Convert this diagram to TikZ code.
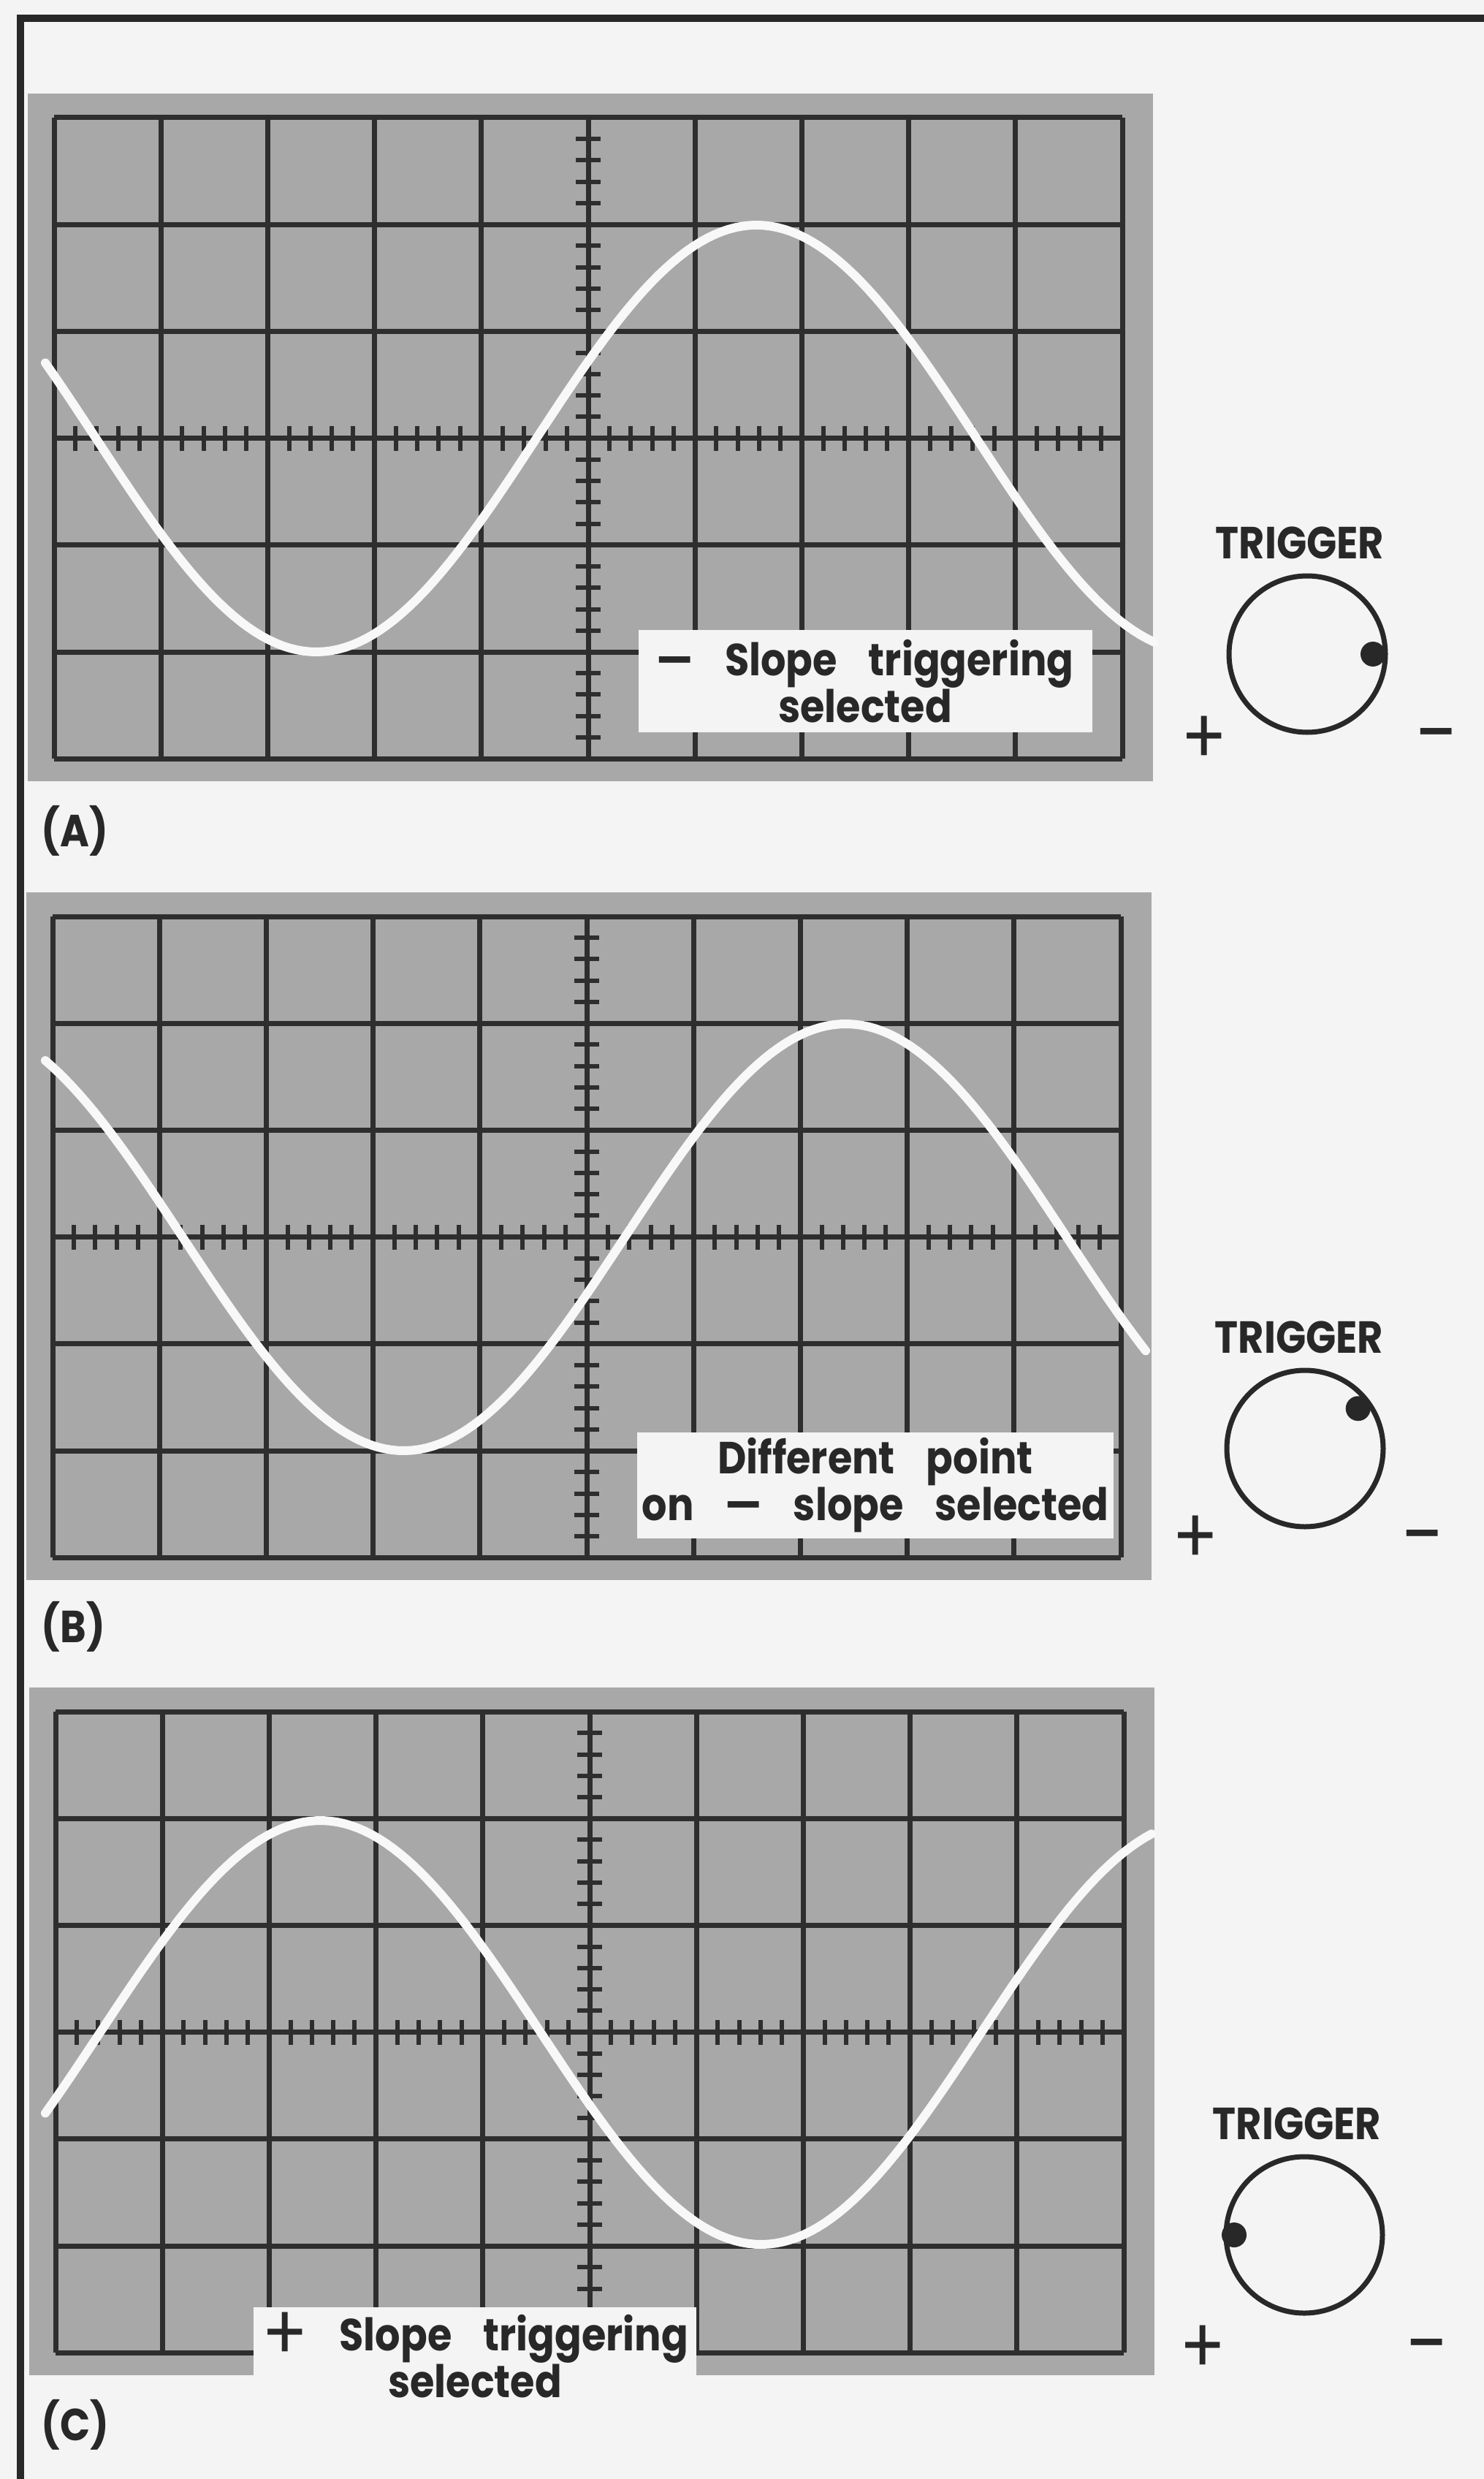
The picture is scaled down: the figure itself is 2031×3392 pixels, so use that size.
\documentclass[tikz,border=0pt]{standalone}
\usepackage{fontspec}
\setmainfont{Poppins}[FakeStretch=0.88]
\usepackage{tikz}
\usetikzlibrary{positioning,calc}

\definecolor{paper}{RGB}{244,244,244}
\definecolor{screen}{RGB}{168,168,168}
\definecolor{rule}{RGB}{46,46,46}
\definecolor{ink}{RGB}{40,40,40}
\definecolor{trace}{RGB}{248,248,248}

\begin{document}
\begin{tikzpicture}[x=0.1mm, y=-0.1mm, font=\fontsize{17.5}{18.2}\selectfont\bfseries, text=ink,
  gridline/.style={rule, line width=0.7mm},
  tick/.style={rule, line width=0.6mm},
  wave/.style={trace, line width=1.2mm, line cap=round},
  caption/.style={fill=paper, inner sep=0pt, align=center,
    execute at begin node={\spaceskip=0.7em\relax}},
  knob/.style={circle, draw=ink, line width=0.7mm, minimum size=21.4mm, inner sep=0pt},
  sign/.style={inner sep=0pt, font=\fontsize{30}{30}\selectfont\mdseries}]
% page and frame
\fill[paper] (0,0) rectangle (2031,3392);
\useasboundingbox (0,0) rectangle (2031,3392);
\draw[ink, line width=1mm] (28,3392) -- (28,25) -- (2031,25);
% three screens, grid origin at top left corner
\foreach \gx/\gy in {74/161, 72/1254, 76/2342}{
  \fill[screen] ({\gx-36},{\gy-33}) rectangle ({\gx+1504},{\gy+908});
  \foreach \i in {0,...,10} \draw[gridline] ({\gx+146.2*\i},\gy) -- ++(0,877);
  \foreach \j in {0,...,6} \draw[gridline] (\gx,{\gy+146.2*\j}) -- ++(1462,0);
  % minor ticks on the centre lines
  \foreach \k in {1,...,49} \draw[tick] ({\gx+29.24*\k},{\gy+421.6}) -- ++(0,34);
  \foreach \k in {1,...,29} \draw[tick] ({\gx+714},{\gy+29.24*\k}) -- ++(34,0);
}
% traces
\draw[wave] plot[domain=62:1579, samples=160] (\x,{600-292*sin((\x-734)/1205*360)});
\draw[wave] plot[domain=62:1568, samples=160] (\x,{1693-292*sin((\x-855)/1210*360)});
\draw[wave] plot[domain=62:1576, samples=160] (\x,{2781+290*sin((\x-740)/1206*360)});
% notes on the screens
\node[caption, minimum width=62.1mm, minimum height=14mm] (noteA) at (1184,932) {— Slope triggering\\selected};
\node[caption, minimum width=65.2mm, minimum height=14.5mm] (noteB) at (1198,2032) {Different point\\on — slope selected};
\node[caption, minimum width=60.6mm, minimum height=13.1mm] (noteC) at (650,3222) {\raisebox{-1.3mm}{\fontsize{30}{18.2}\selectfont\mdseries+} Slope triggering\\selected};
% panel letters
\node[anchor=west, inner sep=0pt] (capA) at (56,1137) {(A)};
\node[anchor=west, inner sep=0pt] (capB) at (56,2226) {(B)};
\node[anchor=west, inner sep=0pt] (capC) at (56,3318) {(C)};
% trigger knobs
\node[knob] (knobA) at (1789,895) {};
\node[knob] (knobB) at (1786,1982) {};
\node[knob] (knobC) at (1785,3058) {};
\fill[ink] (knobA.center) ++(0:9mm) circle[radius=1.7mm];
\fill[ink] (knobB.center) ++(37:9.1mm) circle[radius=1.7mm];
\fill[ink] (knobC.center) ++(180:9.6mm) circle[radius=1.7mm];
\node[above=1.9mm of knobA, xshift=-1mm, inner sep=0pt] (trigA) {TRIGGER};
\node[above=1.9mm of knobB, xshift=-0.8mm, inner sep=0pt] (trigB) {TRIGGER};
\node[above=1.9mm of knobC, xshift=-1mm, inner sep=0pt] (trigC) {TRIGGER};
\node[sign] (plusA) at (1648,1013) {+};
\node[sign] (plusB) at (1636,2107) {+};
\node[sign] (plusC) at (1646,3215) {+};
\node[inner sep=0pt] (minusA) at (1966,1010) {—};
\node[inner sep=0pt] (minusB) at (1947,2106) {—};
\node[inner sep=0pt] (minusC) at (1953,3213) {—};
\end{tikzpicture}
\end{document}
